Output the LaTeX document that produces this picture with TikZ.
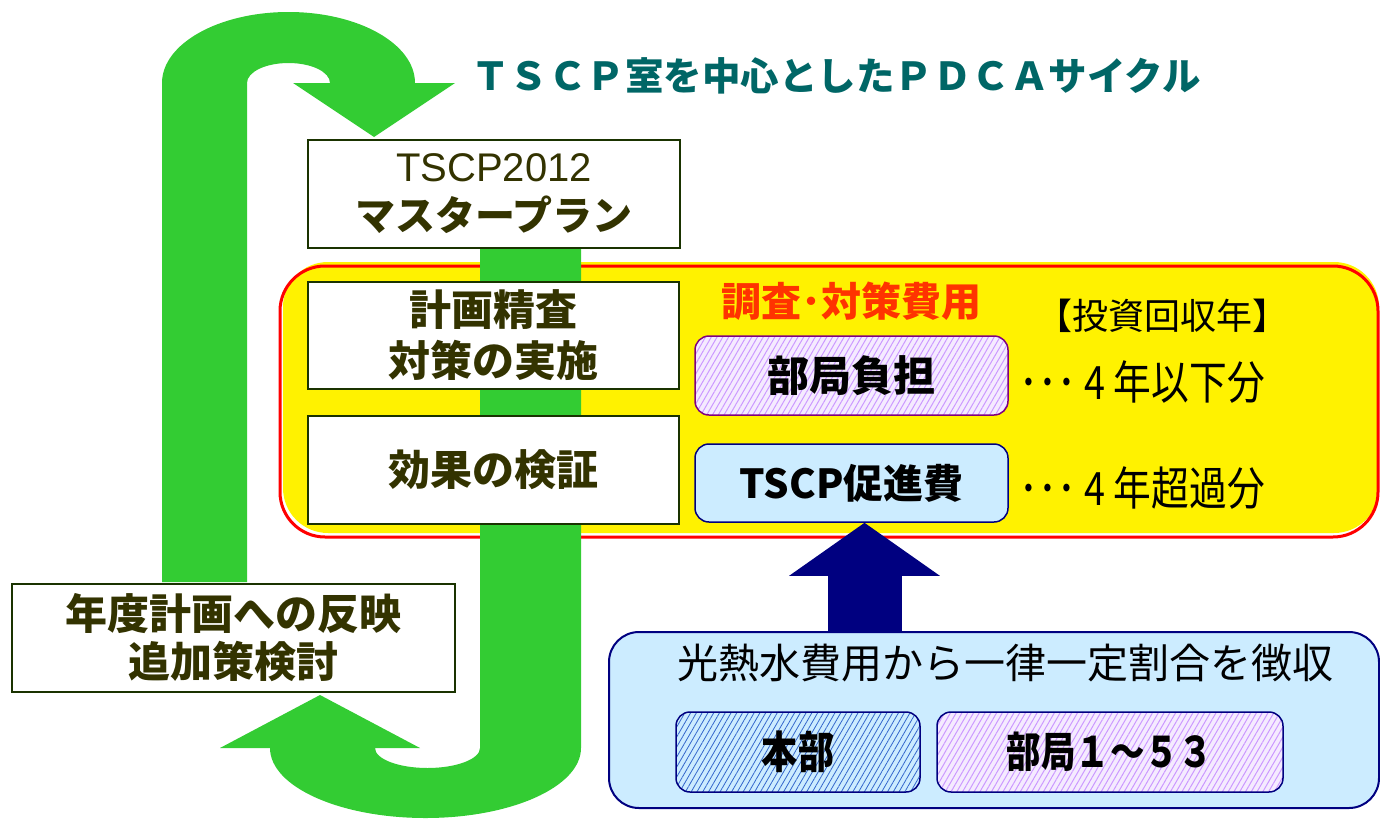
\documentclass[tikz,border=0pt]{standalone}
\usepackage{fontspec}
\setmainfont{Noto Sans CJK JP}
\newfontfamily\narrowjp[FakeStretch=0.82]{Noto Sans CJK JP}
\newfontfamily\latinsans{Liberation Sans}
\usetikzlibrary{arrows.meta}
\usetikzlibrary{patterns.meta}
\definecolor{cyclegreen}{HTML}{33CC33}
\definecolor{boxgreen}{HTML}{1A3300}
\definecolor{olivetext}{HTML}{333300}
\definecolor{titleteal}{HTML}{006666}
\definecolor{costred}{HTML}{FF3300}
\definecolor{navyline}{HTML}{000080}
\definecolor{paleblue}{HTML}{CCECFF}
\definecolor{hatchblue}{HTML}{3366CC}
\definecolor{hatchpurple}{HTML}{CC99FF}
\newcommand\fsize[2]{\fontsize{#1}{#2}\selectfont}

\begin{document}
\begin{tikzpicture}[x=1pt, y=-1pt,
    stepbox/.style={draw=boxgreen, line width=2.5pt, fill=white,
      text=olivetext, align=center, inner sep=0pt},
    costbox/.style={draw=navyline, line width=1.5pt, rounded corners=14pt,
      inner sep=0pt, minimum width=313pt, minimum height=79pt,
      font=\bfseries\fsize{40}{48}},
    hatched/.style={preaction={fill=#1}},
    years/.style={anchor=west, font=\narrowjp\fsize{46}{50}}]

  \useasboundingbox (0, 0) rectangle (1380, 819);

  % yellow frame with offset red border
  \fill [yellow, rounded corners=45pt] (283, 262) rectangle (1379, 533);
  \draw [red, line width=3pt, rounded corners=45pt] (280, 266) rectangle (1378, 537);

  % PDCA cycle arrows
  \fill [cyclegreen] (162, 582) -- (162, 83)
  arc [start angle=180, end angle=0, x radius=126.5pt, y radius=71pt]
  -- (455, 83) -- (374, 137) -- (293, 83) -- (330, 83)
  arc [start angle=0, end angle=180, x radius=41.5pt, y radius=20pt]
  -- (247, 582) -- cycle;

  \fill [cyclegreen] (581, 200) -- (581, 748)
  arc [start angle=0, end angle=-180, x radius=155.5pt, y radius=70pt]
  -- (220, 748) -- (320, 695) -- (420, 748) -- (375, 748)
  arc [start angle=180, end angle=360, x radius=52.5pt, y radius=20pt]
  -- (480, 200) -- cycle;

  \node [text=titleteal, font=\bfseries\fsize{38.5}{44}] (title) at (836, 76)
  {ＴＳＣＰ室を中心としたＰＤＣＡサイクル};

  \node [stepbox, minimum width=372pt, minimum height=108pt,
    font=\fsize{40}{49}] (plan) at (494, 194)
  {{\latinsans TSCP2012}\\\bfseries マスタープラン};

  \node [stepbox, minimum width=371pt, minimum height=107pt,
    font=\bfseries\fsize{42}{51}] (check) at (493.5, 335.5)
  {計画精査\\対策の実施};

  \node [stepbox, minimum width=371pt, minimum height=108pt,
    font=\bfseries\fsize{42}{51}] (verify) at (493.5, 470)
  {効果の検証};

  \node [stepbox, minimum width=443pt, minimum height=108pt,
    font=\bfseries\fsize{42}{48}] (feedback) at (233.5, 638)
  {年度計画への反映\\追加策検討};

  \node [text=costred, font=\bfseries\fsize{40}{44}] (costtitle) at (851, 301)
  {調査･対策費用};
  \node [font=\fsize{36}{44}] (payback) at (1162, 316) {【投資回収年】};

  \node [costbox, draw=violet, hatched=hatchpurple!20!white,
    pattern={Lines[angle=60, distance=5pt, line width=1pt]},
    pattern color=hatchpurple] (burden) at (851.5, 375.5) {};
  \node [font=\bfseries\fsize{42}{48}] at (burden) {部局負担};

  \node [costbox, fill=paleblue, minimum height=78pt] (promo) at (851.5, 483)
  {TSCP促進費};

  \node [years] (short) at (1016, 382) {･･･ 4 年以下分};
  \node [years] (long) at (1016, 488) {･･･ 4 年超過分};

  % levy on utility costs
  \node [draw=navyline, line width=2pt, fill=paleblue, rounded corners=30pt,
    minimum width=770pt, minimum height=176pt] (levy) at (994, 720) {};
  \node [font=\fsize{41}{48}] (levytext) at (1005, 663)
  {光熱水費用から一律一定割合を徴収};

  \node [costbox, minimum width=244pt, minimum height=80pt,
    hatched=paleblue, pattern={Lines[angle=60, distance=5pt, line width=0.8pt]},
    pattern color=hatchblue] (honbu) at (798, 752) {};
  \node [font=\narrowjp\bfseries\fsize{44}{48}] at (honbu) {本部};

  \node [costbox, minimum width=346pt, minimum height=80pt,
    hatched=hatchpurple!20!white,
    pattern={Lines[angle=60, distance=5pt, line width=1pt]},
    pattern color=hatchpurple] (bukyoku) at (1110, 752) {};
  \node [font=\narrowjp\bfseries\fsize{42}{48}] at (bukyoku) {部局１～５３};

  \draw [navyline, line width=74pt,
    -{Triangle[length=53pt, width=148pt]}]
  ([xshift=13pt]levy.north -| promo.south) -- ([xshift=13pt]promo.south);

\end{tikzpicture}
\end{document}
